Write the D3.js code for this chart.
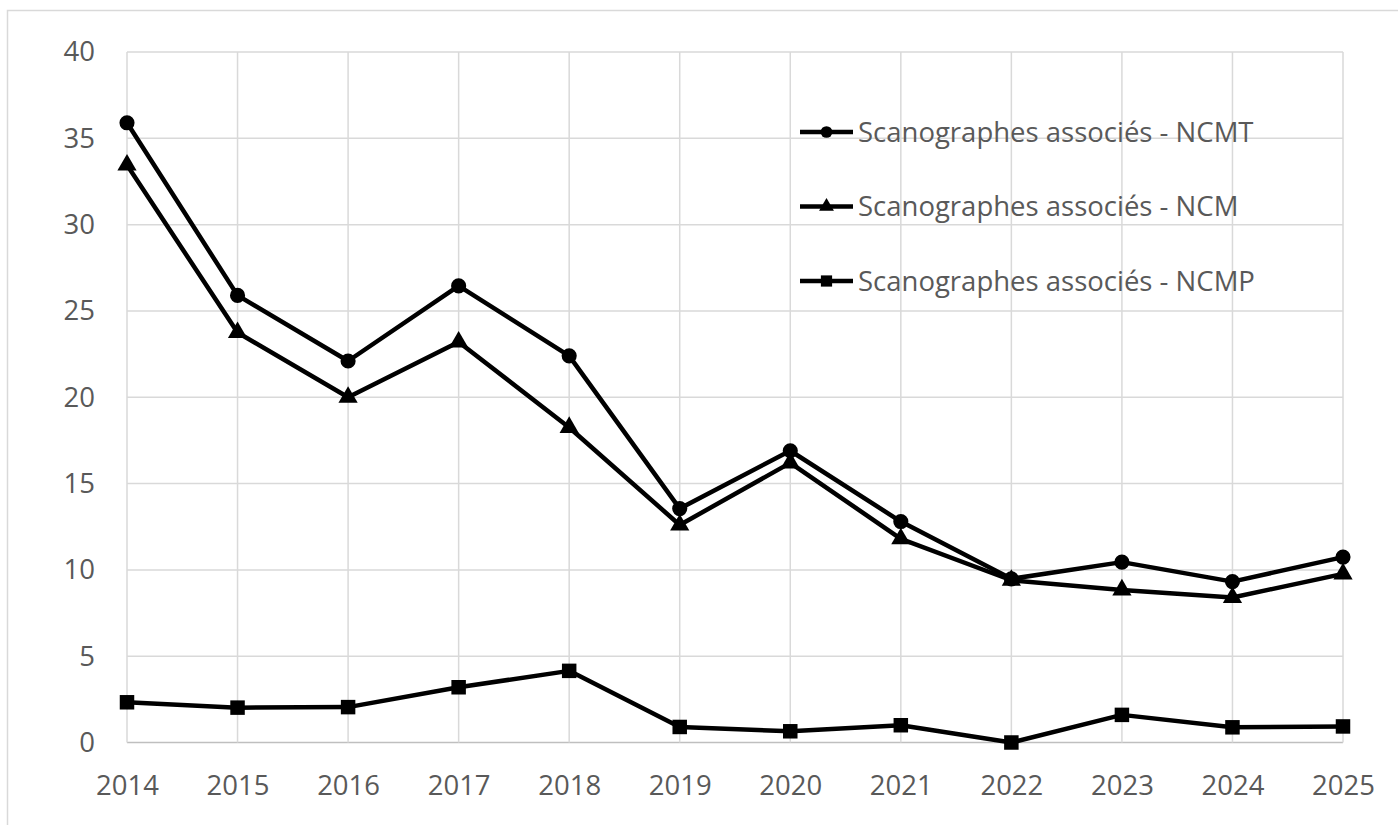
<!DOCTYPE html>
<html>
<head>
<meta charset="utf-8">
<script src="https://cdn.jsdelivr.net/npm/d3@7"></script>
<style>
  body { margin: 0; background: #fff; }
  text { font-family: "Open Sans", sans-serif; fill: #595959; }
</style>
</head>
<body>
<div id="chart"></div>
<script>
const years = [2014, 2015, 2016, 2017, 2018, 2019, 2020, 2021, 2022, 2023, 2024, 2025];
const ncmt = [35.9, 25.9, 22.1, 26.45, 22.4, 13.55, 16.9, 12.8, 9.48, 10.45, 9.32, 10.74];
const ncm = [33.45, 23.75, 20.0, 23.2, 18.25, 12.6, 16.2, 11.8, 9.4, 8.84, 8.4, 9.77];
const ncmp = [2.33, 2.02, 2.05, 3.2, 4.15, 0.9, 0.65, 1.0, 0.0, 1.6, 0.88, 0.93];
const seriesNames = ['Scanographes associés - NCMT', 'Scanographes associés - NCM', 'Scanographes associés - NCMP'];
const yTicks = [0, 5, 10, 15, 20, 25, 30, 35, 40];

const width = 1398, height = 825;
const margin = {top: 52, right: 55, bottom: 82.5, left: 127};
const fontSize = '27.5px';

const svg = d3.select('#chart').append('svg')
    .attr('width', width)
    .attr('height', height);

// outer chart border
svg.append('rect')
    .attr('x', 7.5).attr('y', 10.5)
    .attr('width', 1398).attr('height', 830)
    .attr('fill', 'none')
    .attr('stroke', '#d9d9d9')
    .attr('stroke-width', 1.5);

const x = d3.scalePoint()
    .domain(years)
    .range([margin.left, width - margin.right]);

const y = d3.scaleLinear()
    .domain([0, 40])
    .range([height - margin.bottom, margin.top]);

// gridlines
svg.append('g')
    .selectAll('line.h')
    .data(yTicks)
    .enter().append('line')
    .attr('x1', margin.left).attr('x2', width - margin.right)
    .attr('y1', d => y(d)).attr('y2', d => y(d))
    .attr('stroke', d => d === 0 ? '#bfbfbf' : '#d9d9d9')
    .attr('stroke-width', 1.5);

svg.append('g')
    .selectAll('line.v')
    .data(years)
    .enter().append('line')
    .attr('x1', d => x(d)).attr('x2', d => x(d))
    .attr('y1', margin.top).attr('y2', height - margin.bottom)
    .attr('stroke', '#d9d9d9')
    .attr('stroke-width', 1.5);

// axes labels
const yAxis = svg.append('g')
    .attr('transform', `translate(${margin.left},0)`)
    .call(d3.axisLeft(y).tickValues(yTicks).tickSize(0).tickPadding(32));
yAxis.select('.domain').remove();
yAxis.selectAll('text')
    .style('font-size', fontSize)
    .style('font-family', '"Open Sans", sans-serif')
    .attr('fill', '#595959');

const xAxis = svg.append('g')
    .attr('transform', `translate(0,${height - margin.bottom})`)
    .call(d3.axisBottom(x).tickFormat(d => d).tickSize(0).tickPadding(33));
xAxis.select('.domain').remove();
xAxis.selectAll('text')
    .style('font-size', fontSize)
    .style('font-family', '"Open Sans", sans-serif')
    .attr('fill', '#595959');

const series = [
  {name: seriesNames[0], values: ncmt, symbol: d3.symbolCircle, size: 180},
  {name: seriesNames[1], values: ncm, symbol: d3.symbolTriangle, size: 160},
  {name: seriesNames[2], values: ncmp, symbol: d3.symbolSquare, size: 210}
];

const line = d3.line()
    .x((d, i) => x(years[i]))
    .y(d => y(d));

series.forEach(s => {
  svg.append('path')
      .datum(s.values)
      .attr('d', line)
      .attr('fill', 'none')
      .attr('stroke', '#000')
      .attr('stroke-width', 4.5)
      .attr('stroke-linejoin', 'round');

  svg.append('g')
      .selectAll('path')
      .data(s.values)
      .enter().append('path')
      .attr('d', d3.symbol().type(s.symbol).size(s.size))
      .attr('transform', (d, i) => `translate(${x(years[i])},${y(d)})`)
      .attr('fill', '#000');
});

// legend
const legend = svg.append('g').attr('transform', 'translate(800,132)');
series.forEach((s, i) => {
  const row = legend.append('g').attr('transform', `translate(0,${i * 74.5})`);
  row.append('line')
      .attr('x1', 0).attr('x2', 53)
      .attr('stroke', '#000')
      .attr('stroke-width', 4.5);
  row.append('path')
      .attr('d', d3.symbol().type(s.symbol).size(s.size * 0.6))
      .attr('transform', 'translate(26.5,0)')
      .attr('fill', '#000');
  row.append('text')
      .attr('x', 58)
      .attr('dy', '0.35em')
      .style('font-size', fontSize)
      .text(s.name);
});
</script>
</body>
</html>
